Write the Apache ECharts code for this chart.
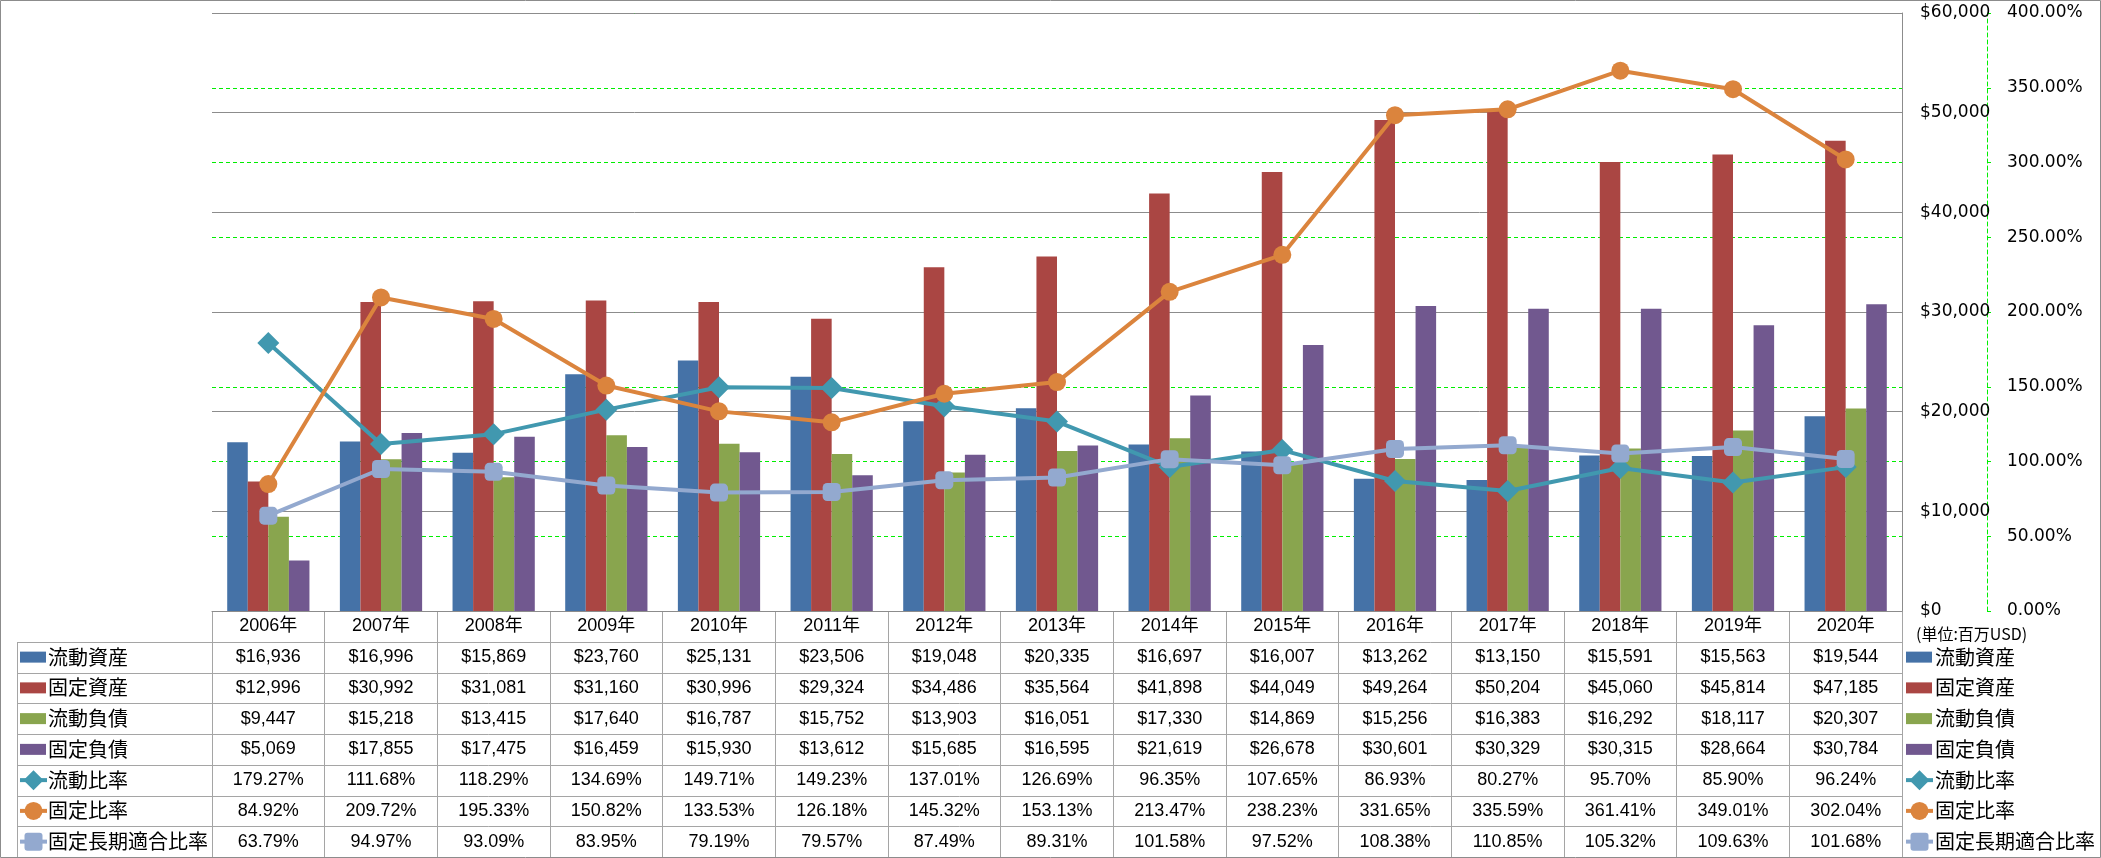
<!DOCTYPE html>
<html>
<head>
<meta charset="utf-8">
<script src="https://cdn.jsdelivr.net/npm/echarts@6/dist/echarts.min.js"></script>
<style>
html,body{margin:0;padding:0;background:#fff;}
#chart{width:2101px;height:858px;}
</style>
</head>
<body>
<div id="chart"></div>
<script>
// ---- data ----
const categories = ['2006年','2007年','2008年','2009年','2010年','2011年','2012年','2013年','2014年','2015年','2016年','2017年','2018年','2019年','2020年'];
const currentAssets = [16936,16996,15869,23760,25131,23506,19048,20335,16697,16007,13262,13150,15591,15563,19544];
const fixedAssets = [12996,30992,31081,31160,30996,29324,34486,35564,41898,44049,49264,50204,45060,45814,47185];
const currentLiabilities = [9447,15218,13415,17640,16787,15752,13903,16051,17330,14869,15256,16383,16292,18117,20307];
const fixedLiabilities = [5069,17855,17475,16459,15930,13612,15685,16595,21619,26678,30601,30329,30315,28664,30784];
const currentRatio = [179.27,111.68,118.29,134.69,149.71,149.23,137.01,126.69,96.35,107.65,86.93,80.27,95.70,85.90,96.24];
const fixedRatio = [84.92,209.72,195.33,150.82,133.53,126.18,145.32,153.13,213.47,238.23,331.65,335.59,361.41,349.01,302.04];
const fixedLongTermRatio = [63.79,94.97,93.09,83.95,79.19,79.57,87.49,89.31,101.58,97.52,108.38,110.85,105.32,109.63,101.68];
const seriesNames = ['流動資産','固定資産','流動負債','固定負債','流動比率','固定比率','固定長期適合比率'];
const unitLabel = '(単位:百万USD)';
const leftAxisMin = 0, leftAxisMax = 60000, leftAxisInterval = 10000;
const rightAxisMin = 0, rightAxisMax = 400, rightAxisInterval = 50;

// ---- layout / style ----
const W = 2101, H = 858;
const GRID_L = 212, GRID_R_X = 1902, GRID_T = 13, AXIS_Y = 611;
const ROW_H = (857 - AXIS_Y) / 8;
const TABLE_LEFT = 17;
const colors = ['#4572A7','#AA4643','#89A54E','#71588F','#4198AF','#DB843D','#93A9CF'];
const symbols = ['diamond','circle','roundRect'];
const symbolSizes = [22,18,18];
const lineGray = '#8C8C8C';
const tableGray = '#A5A5A5';
const numFont = '"Liberation Sans", "Noto Sans CJK JP", sans-serif';
const jpFont = '"Noto Sans CJK JP", sans-serif';
const axisFont = '"DejaVu Sans", sans-serif';

const fmtMoney = v => '$' + v.toLocaleString('en-US');
const fmtPct = v => v.toFixed(2) + '%';

const rows = [
  {values: currentAssets, fmt: fmtMoney},
  {values: fixedAssets, fmt: fmtMoney},
  {values: currentLiabilities, fmt: fmtMoney},
  {values: fixedLiabilities, fmt: fmtMoney},
  {values: currentRatio, fmt: fmtPct},
  {values: fixedRatio, fmt: fmtPct},
  {values: fixedLongTermRatio, fmt: fmtPct}
];

const xAxes = [{
  type: 'category', data: categories, gridIndex: 0, position: 'bottom',
  axisLine: {show: true, lineStyle: {color: lineGray, width: 1}},
  axisTick: {show: true, alignWithLabel: false, inside: false, length: H - AXIS_Y, lineStyle: {color: tableGray}},
  axisLabel: {interval: 0, margin: ROW_H / 2, verticalAlign: 'middle', fontSize: 18, fontFamily: numFont, color: '#000'},
  splitLine: {show: false}
}];
rows.forEach((r, i) => {
  xAxes.push({
    type: 'category', data: categories, gridIndex: 0, position: 'bottom',
    offset: ROW_H * (i + 1),
    axisLine: {show: false}, axisTick: {show: false}, splitLine: {show: false},
    axisLabel: {
      interval: 0, margin: ROW_H / 2, verticalAlign: 'middle', fontSize: 18, fontFamily: numFont, color: '#000',
      formatter: (val, idx) => r.fmt(r.values[idx])
    }
  });
});

const barData = [currentAssets, fixedAssets, currentLiabilities, fixedLiabilities];
const lineData = [currentRatio, fixedRatio, fixedLongTermRatio];
const series = [];
barData.forEach((d, i) => {
  series.push({
    name: seriesNames[i], type: 'bar', data: d, xAxisIndex: 0, yAxisIndex: 0,
    barGap: '0%', barCategoryGap: '27%',
    itemStyle: {color: colors[i]}
  });
});
lineData.forEach((d, i) => {
  series.push({
    name: seriesNames[4 + i], type: 'line', data: d, xAxisIndex: 0, yAxisIndex: 1,
    symbol: symbols[i], symbolSize: symbolSizes[i], showSymbol: true,
    lineStyle: {color: colors[4 + i], width: 4},
    itemStyle: {color: colors[4 + i]},
    z: 3 + i
  });
});

// ---- legend keys / table lines as graphics ----
const graphic = [];
function addKey(x, cy, i) {
  const c = colors[i];
  if (i < 4) {
    graphic.push({type: 'rect', shape: {x: x, y: cy - 5.5, width: 26, height: 11}, style: {fill: c}});
  } else {
    graphic.push({type: 'line', shape: {x1: x, y1: cy, x2: x + 27, y2: cy}, style: {stroke: c, lineWidth: 4}});
    const mx = x + 13.5;
    if (i === 4) {
      graphic.push({type: 'polygon', shape: {points: [[mx, cy - 10], [mx + 10, cy], [mx, cy + 10], [mx - 10, cy]]}, style: {fill: c}});
    } else if (i === 5) {
      graphic.push({type: 'circle', shape: {cx: mx, cy: cy, r: 9}, style: {fill: c}});
    } else {
      graphic.push({type: 'rect', shape: {x: mx - 9, y: cy - 9, width: 18, height: 18, r: 3}, style: {fill: c}});
    }
  }
}
for (let k = 1; k <= 7; k++) {
  const y = Math.round(AXIS_Y + ROW_H * k) + 0.5;
  graphic.push({type: 'line', shape: {x1: TABLE_LEFT, y1: y, x2: GRID_R_X, y2: y}, style: {stroke: tableGray, lineWidth: 1}});
}
graphic.push({type: 'line', shape: {x1: TABLE_LEFT + 0.5, y1: Math.round(AXIS_Y + ROW_H) , x2: TABLE_LEFT + 0.5, y2: H}, style: {stroke: tableGray, lineWidth: 1}});
seriesNames.forEach((name, i) => {
  const cy = AXIS_Y + ROW_H * (i + 1.5);
  addKey(20, cy, i);
  graphic.push({type: 'text', style: {text: name, x: 48, y: cy, verticalAlign: 'middle', align: 'left', fontSize: 20, fontFamily: jpFont, fill: '#000'}});
  addKey(1906, cy, i);
  graphic.push({type: 'text', style: {text: name, x: 1935, y: cy, verticalAlign: 'middle', align: 'left', fontSize: 20, fontFamily: jpFont, fill: '#000'}});
});
graphic.push({type: 'text', style: {text: unitLabel, x: 1916, y: 634, verticalAlign: 'middle', align: 'left', fontSize: 16, fontFamily: jpFont, fill: '#000'}});
graphic.push({type: 'rect', shape: {x: 0.5, y: 0.5, width: W - 1, height: H - 1}, style: {fill: 'none', stroke: lineGray, lineWidth: 1}, z: 100});

const option = {
  animation: false,
  backgroundColor: '#fff',
  grid: {left: GRID_L, right: W - GRID_R_X, top: GRID_T, bottom: H - AXIS_Y, containLabel: false},
  xAxis: xAxes,
  yAxis: [
    {
      type: 'value', position: 'right', min: leftAxisMin, max: leftAxisMax, interval: leftAxisInterval, z: 1,
      axisLine: {show: true, lineStyle: {color: lineGray, width: 1}},
      axisTick: {show: false},
      splitLine: {show: true, lineStyle: {color: lineGray, width: 1}},
      axisLabel: {margin: 18, fontSize: 17, fontFamily: axisFont, color: '#000', formatter: v => fmtMoney(v)}
    },
    {
      type: 'value', position: 'right', offset: 85, min: rightAxisMin, max: rightAxisMax, interval: rightAxisInterval, z: 0,
      axisLine: {show: true, lineStyle: {color: '#00EE00', width: 1, type: [4, 3]}},
      axisTick: {show: true, inside: false, length: 4, lineStyle: {color: '#00EE00'}},
      splitLine: {show: true, lineStyle: {color: '#00EE00', width: 1, type: [4, 3]}},
      axisLabel: {margin: 20, fontSize: 17, fontFamily: axisFont, color: '#000', formatter: v => fmtPct(v)}
    }
  ],
  series: series,
  graphic: graphic
};

const chart = echarts.init(document.getElementById('chart'), null, {renderer: 'canvas'});
chart.setOption(option);
</script>
</body>
</html>
